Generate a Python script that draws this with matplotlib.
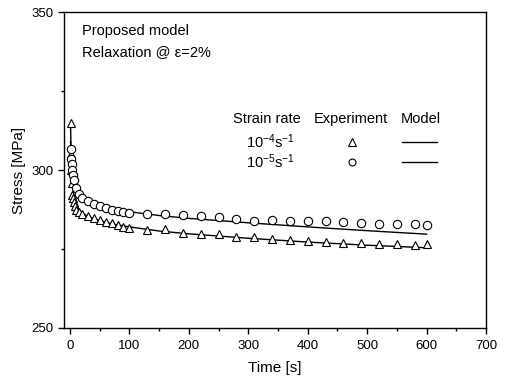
import matplotlib
matplotlib.use("Agg")
import matplotlib.pyplot as plt
from matplotlib.ticker import MultipleLocator

plt.rcParams['font.family'] = ['Liberation Sans', 'DejaVu Sans']
plt.rcParams['mathtext.fontset'] = 'custom'
plt.rcParams['mathtext.rm'] = 'Liberation Sans'
plt.rcParams['mathtext.it'] = 'Liberation Sans:italic'

# experiment, strain rate 1e-4 (triangles)
t_exp4 = [1, 1, 2, 3, 4, 5, 6, 8, 10, 15, 20, 30, 40, 50, 60, 70, 80, 90, 100,
          130, 160, 190, 220, 250, 280, 310, 340, 370, 400, 430, 460, 490, 520,
          550, 580, 600]
s_exp4 = [315, 305, 300, 296, 292, 291, 290, 288.5, 287.5, 286.8, 286.1, 285.5,
          284.8, 284.3, 283.7, 283.1, 282.6, 282.1, 281.7, 281.1, 281.3, 280.0,
          279.8, 279.6, 278.9, 278.7, 278.2, 277.9, 277.5, 277.1, 276.9, 276.8,
          276.6, 276.6, 276.4, 276.5]

# experiment, strain rate 1e-5 (circles)
t_exp5 = [1, 2, 3, 4, 5, 7, 10, 15, 20, 30, 40, 50, 60, 70, 80, 90, 100, 130,
          160, 190, 220, 250, 280, 310, 340, 370, 400, 430, 460, 490, 520, 550,
          580, 600]
s_exp5 = [306.5, 303.4, 301.8, 300, 298.5, 297, 294.4, 292.3, 291.3, 290.3,
          289.2, 288.7, 288, 287.3, 286.9, 286.6, 286.4, 286.1, 286.1, 285.7,
          285.4, 285.1, 284.5, 284.0, 284.2, 284.0, 284.0, 283.8, 283.4, 283.2,
          282.9, 282.9, 282.9, 282.7]

# model curves
t_mod = [1, 2, 3, 5, 7, 10, 15, 20, 30, 50, 75, 100, 150, 200, 300, 400, 500, 600]
s_mod4 = [315, 304, 299, 294, 291.5, 289.5, 287.6, 286.5, 285.3, 284.0, 282.8,
          282.0, 280.7, 279.8, 278.4, 277.2, 276.2, 275.4]
s_mod5 = [309, 304, 301, 298, 296, 294.3, 292.5, 291.4, 290.0, 288.6, 287.5,
          286.8, 285.6, 284.7, 283.3, 282.0, 280.8, 279.7]

fig = plt.figure(figsize=(5.06, 3.77), dpi=100)
ax = fig.add_axes([0.1265, 0.130, 0.834, 0.838])

ax.plot(t_mod, s_mod4, color='black', lw=1.0)
ax.plot(t_mod, s_mod5, color='black', lw=1.0)
ax.plot(t_exp4, s_exp4, ls='none', marker='^', ms=6, mfc='white', mec='black', mew=0.8)
ax.plot(t_exp5, s_exp5, ls='none', marker='o', ms=6, mfc='white', mec='black', mew=0.8)

ax.set_xlim(-10, 700)
ax.set_ylim(250, 350)
ax.xaxis.set_major_locator(MultipleLocator(100))
ax.xaxis.set_minor_locator(MultipleLocator(50))
ax.yaxis.set_major_locator(MultipleLocator(50))
ax.yaxis.set_minor_locator(MultipleLocator(25))
ax.tick_params(which='both', direction='out', labelsize=9.5, width=1.0)
ax.tick_params(which='major', length=4)
ax.tick_params(which='minor', length=2.5)
ax.tick_params(axis='x', pad=5)
for sp in ax.spines.values():
    sp.set_linewidth(1.0)

ax.set_xlabel('Time [s]', fontsize=11, labelpad=6)
ax.set_ylabel('Stress [MPa]', fontsize=11, labelpad=4)

# annotations
ax.text(0.043, 0.94, 'Proposed model', transform=ax.transAxes, fontsize=10.5, va='center')
ax.text(0.043, 0.873, 'Relaxation @ ε=2%', transform=ax.transAxes, fontsize=10.5, va='center')

# table-style legend
fs = 10.5
ax.text(0.400, 0.661, 'Strain rate', transform=ax.transAxes, fontsize=fs, va='center')
ax.text(0.680, 0.661, 'Experiment', transform=ax.transAxes, fontsize=fs, va='center', ha='center')
ax.text(0.846, 0.661, 'Model', transform=ax.transAxes, fontsize=fs, va='center', ha='center')
ax.text(0.431, 0.589, r'10$^{-4}$s$^{-1}$', transform=ax.transAxes, fontsize=fs, va='center')
ax.text(0.431, 0.525, r'10$^{-5}$s$^{-1}$', transform=ax.transAxes, fontsize=fs, va='center')
ax.plot([0.682], [0.589], transform=ax.transAxes, ls='none', marker='^', ms=6,
        mfc='white', mec='black', mew=0.8)
ax.plot([0.682], [0.525], transform=ax.transAxes, ls='none', marker='o', ms=5,
        mfc='white', mec='black', mew=0.8)
ax.plot([0.801, 0.884], [0.589, 0.589], transform=ax.transAxes, color='black', lw=1.0)
ax.plot([0.801, 0.884], [0.525, 0.525], transform=ax.transAxes, color='black', lw=1.0)

fig.savefig('out.png', dpi=100)
